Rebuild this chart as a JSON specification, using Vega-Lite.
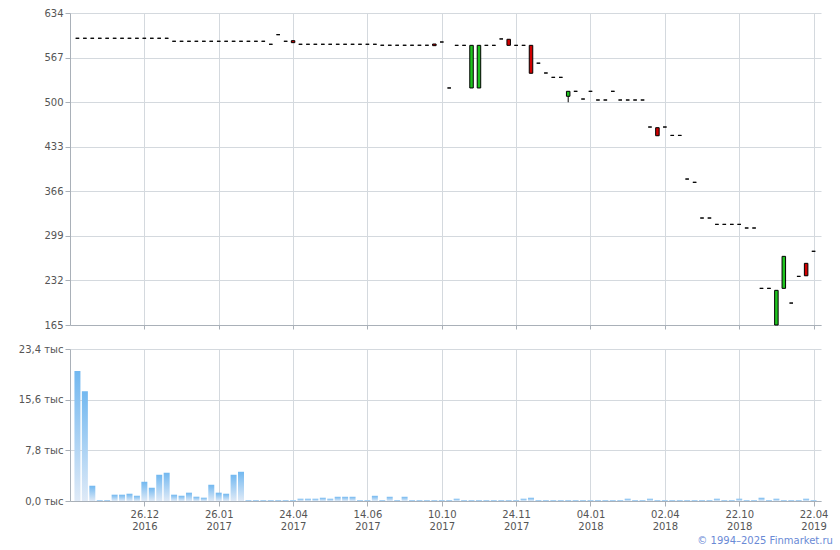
{
"$schema": "https://vega.github.io/schema/vega-lite/v6.json",
"padding": {"left": 17, "top": 8, "right": 0, "bottom": 2},
"config": {
  "font": "DejaVu Sans",
  "view": {"stroke": null},
  "axis": {"labelFont": "DejaVu Sans", "labelFontSize": 10, "labelColor": "#555555", "gridColor": "#d4d9de", "domainColor": "#a9b0b8", "tickColor": "#a9b0b8", "title": null, "labelFlush": false, "labelOverlap": false},
  "axisY": {"minExtent": 53, "maxExtent": 53}
},
"datasets": {"d": [
{"idx":0,"open":596,"high":596,"low":596,"close":596,"volume":20000},
{"idx":1,"open":596,"high":596,"low":596,"close":596,"volume":16900},
{"idx":2,"open":596,"high":596,"low":596,"close":596,"volume":2350},
{"idx":3,"open":596,"high":596,"low":596,"close":596,"volume":150},
{"idx":4,"open":596,"high":596,"low":596,"close":596,"volume":150},
{"idx":5,"open":596,"high":596,"low":596,"close":596,"volume":970},
{"idx":6,"open":596,"high":596,"low":596,"close":596,"volume":970},
{"idx":7,"open":596,"high":596,"low":596,"close":596,"volume":1120},
{"idx":8,"open":596,"high":596,"low":596,"close":596,"volume":810},
{"idx":9,"open":596,"high":596,"low":596,"close":596,"volume":2960},
{"idx":10,"open":596,"high":596,"low":596,"close":596,"volume":2040},
{"idx":11,"open":596,"high":596,"low":596,"close":596,"volume":4040},
{"idx":12,"open":596,"high":596,"low":596,"close":596,"volume":4350},
{"idx":13,"open":591.5,"high":591.5,"low":591.5,"close":591.5,"volume":970},
{"idx":14,"open":591.5,"high":591.5,"low":591.5,"close":591.5,"volume":810},
{"idx":15,"open":591.5,"high":591.5,"low":591.5,"close":591.5,"volume":1280},
{"idx":16,"open":591.5,"high":591.5,"low":591.5,"close":591.5,"volume":660},
{"idx":17,"open":591.5,"high":591.5,"low":591.5,"close":591.5,"volume":510},
{"idx":18,"open":591.5,"high":591.5,"low":591.5,"close":591.5,"volume":2500},
{"idx":19,"open":591.5,"high":591.5,"low":591.5,"close":591.5,"volume":1280},
{"idx":20,"open":591.5,"high":591.5,"low":591.5,"close":591.5,"volume":1120},
{"idx":21,"open":591.5,"high":591.5,"low":591.5,"close":591.5,"volume":4040},
{"idx":22,"open":591.5,"high":591.5,"low":591.5,"close":591.5,"volume":4500},
{"idx":23,"open":591.5,"high":591.5,"low":591.5,"close":591.5,"volume":150},
{"idx":24,"open":591.5,"high":591.5,"low":591.5,"close":591.5,"volume":150},
{"idx":25,"open":591.5,"high":591.5,"low":591.5,"close":591.5,"volume":150},
{"idx":26,"open":587,"high":587,"low":587,"close":587,"volume":150},
{"idx":27,"open":601.4,"high":601.4,"low":601.4,"close":601.4,"volume":150},
{"idx":28,"open":591.5,"high":591.5,"low":591.5,"close":591.5,"volume":150},
{"idx":29,"open":592.4,"high":592.4,"low":589.4,"close":589.4,"volume":150},
{"idx":30,"open":587,"high":587,"low":587,"close":587,"volume":350},
{"idx":31,"open":587,"high":587,"low":587,"close":587,"volume":350},
{"idx":32,"open":587,"high":587,"low":587,"close":587,"volume":350},
{"idx":33,"open":587,"high":587,"low":587,"close":587,"volume":500},
{"idx":34,"open":587,"high":587,"low":587,"close":587,"volume":350},
{"idx":35,"open":587,"high":587,"low":587,"close":587,"volume":650},
{"idx":36,"open":587,"high":587,"low":587,"close":587,"volume":650},
{"idx":37,"open":587,"high":587,"low":587,"close":587,"volume":650},
{"idx":38,"open":587,"high":587,"low":587,"close":587,"volume":150},
{"idx":39,"open":587,"high":587,"low":587,"close":587,"volume":150},
{"idx":40,"open":587,"high":587,"low":587,"close":587,"volume":800},
{"idx":41,"open":585.5,"high":585.5,"low":585.5,"close":585.5,"volume":150},
{"idx":42,"open":585.5,"high":585.5,"low":585.5,"close":585.5,"volume":650},
{"idx":43,"open":585.5,"high":585.5,"low":585.5,"close":585.5,"volume":150},
{"idx":44,"open":585.5,"high":585.5,"low":585.5,"close":585.5,"volume":650},
{"idx":45,"open":585.5,"high":585.5,"low":585.5,"close":585.5,"volume":150},
{"idx":46,"open":585.5,"high":585.5,"low":585.5,"close":585.5,"volume":150},
{"idx":47,"open":585.5,"high":585.5,"low":585.5,"close":585.5,"volume":150},
{"idx":48,"open":587.4,"high":587.4,"low":584.9,"close":584.9,"volume":150},
{"idx":49,"open":590.4,"high":590.4,"low":590.4,"close":590.4,"volume":150},
{"idx":50,"open":521.3,"high":521.3,"low":521.3,"close":521.3,"volume":150},
{"idx":51,"open":585.4,"high":585.4,"low":585.4,"close":585.4,"volume":350},
{"idx":52,"open":585.4,"high":585.4,"low":585.4,"close":585.4,"volume":150},
{"idx":53,"open":521.3,"high":585.4,"low":521.3,"close":585.4,"volume":150},
{"idx":54,"open":521.3,"high":585.4,"low":521.3,"close":585.4,"volume":150},
{"idx":55,"open":585.4,"high":585.4,"low":585.4,"close":585.4,"volume":150},
{"idx":56,"open":585.4,"high":585.4,"low":585.4,"close":585.4,"volume":150},
{"idx":57,"open":595,"high":595,"low":595,"close":595,"volume":150},
{"idx":58,"open":594.5,"high":594.5,"low":585.4,"close":585.4,"volume":150},
{"idx":59,"open":585.4,"high":585.4,"low":585.4,"close":585.4,"volume":150},
{"idx":60,"open":585.4,"high":585.4,"low":585.4,"close":585.4,"volume":350},
{"idx":61,"open":585.4,"high":585.4,"low":543.4,"close":543.4,"volume":500},
{"idx":62,"open":558.6,"high":558.6,"low":558.6,"close":558.6,"volume":150},
{"idx":63,"open":543.8,"high":543.8,"low":543.8,"close":543.8,"volume":150},
{"idx":64,"open":537.3,"high":537.3,"low":537.3,"close":537.3,"volume":150},
{"idx":65,"open":537.3,"high":537.3,"low":537.3,"close":537.3,"volume":150},
{"idx":66,"open":508.8,"high":516.3,"low":499.8,"close":516.3,"volume":150},
{"idx":67,"open":516.3,"high":516.3,"low":516.3,"close":516.3,"volume":150},
{"idx":68,"open":504.7,"high":504.7,"low":504.7,"close":504.7,"volume":150},
{"idx":69,"open":516.3,"high":516.3,"low":516.3,"close":516.3,"volume":150},
{"idx":70,"open":503.2,"high":503.2,"low":503.2,"close":503.2,"volume":150},
{"idx":71,"open":503.2,"high":503.2,"low":503.2,"close":503.2,"volume":150},
{"idx":72,"open":516.3,"high":516.3,"low":516.3,"close":516.3,"volume":150},
{"idx":73,"open":503.2,"high":503.2,"low":503.2,"close":503.2,"volume":150},
{"idx":74,"open":503.2,"high":503.2,"low":503.2,"close":503.2,"volume":350},
{"idx":75,"open":503.2,"high":503.2,"low":503.2,"close":503.2,"volume":150},
{"idx":76,"open":503.2,"high":503.2,"low":503.2,"close":503.2,"volume":150},
{"idx":77,"open":462.6,"high":462.6,"low":462.6,"close":462.6,"volume":350},
{"idx":78,"open":461.6,"high":461.6,"low":449.5,"close":449.5,"volume":150},
{"idx":79,"open":462.6,"high":462.6,"low":462.6,"close":462.6,"volume":150},
{"idx":80,"open":450,"high":450,"low":450,"close":450,"volume":150},
{"idx":81,"open":450,"high":450,"low":450,"close":450,"volume":150},
{"idx":82,"open":384.4,"high":384.4,"low":384.4,"close":384.4,"volume":150},
{"idx":83,"open":379.5,"high":379.5,"low":379.5,"close":379.5,"volume":150},
{"idx":84,"open":325.8,"high":325.8,"low":325.8,"close":325.8,"volume":150},
{"idx":85,"open":325.8,"high":325.8,"low":325.8,"close":325.8,"volume":150},
{"idx":86,"open":316.3,"high":316.3,"low":316.3,"close":316.3,"volume":350},
{"idx":87,"open":316.3,"high":316.3,"low":316.3,"close":316.3,"volume":150},
{"idx":88,"open":316.3,"high":316.3,"low":316.3,"close":316.3,"volume":150},
{"idx":89,"open":316.3,"high":316.3,"low":316.3,"close":316.3,"volume":350},
{"idx":90,"open":310.8,"high":310.8,"low":310.8,"close":310.8,"volume":150},
{"idx":91,"open":310.8,"high":310.8,"low":310.8,"close":310.8,"volume":150},
{"idx":92,"open":220.1,"high":220.1,"low":220.1,"close":220.1,"volume":500},
{"idx":93,"open":220.1,"high":220.1,"low":220.1,"close":220.1,"volume":150},
{"idx":94,"open":165,"high":217.1,"low":165,"close":217.1,"volume":350},
{"idx":95,"open":220.1,"high":268.2,"low":220.1,"close":268.2,"volume":150},
{"idx":96,"open":198,"high":198,"low":198,"close":198,"volume":150},
{"idx":97,"open":238.1,"high":238.1,"low":238.1,"close":238.1,"volume":150},
{"idx":98,"open":257.7,"high":257.7,"low":239,"close":239,"volume":350},
{"idx":99,"open":275.8,"high":275.8,"low":275.8,"close":275.8,"volume":150}
]},
"data": {"name": "d"},
"spacing": 14,
"title": {"text": "© 1994–2025 Finmarket.ru", "orient": "bottom", "anchor": "end", "color": "#6a8ad6", "fontSize": 10, "fontWeight": "normal", "font": "DejaVu Sans", "offset": 5, "dx": 5},
"vconcat": [
  {
    "width": 751, "height": 312,
    "encoding": {
      "x": {"field": "idx", "type": "quantitative", "scale": {"domain": [-1, 100], "nice": false, "zero": false, "padding": 0},
            "axis": {"values": [9,19,29,39,49,59,69,79,89,99], "labels": false, "tickSize": 4, "grid": true}}
    },
    "layer": [
      {"mark": {"type": "rule", "color": "black", "strokeWidth": 1},
       "encoding": {
         "y": {"field": "low", "type": "quantitative", "scale": {"domain": [165, 634], "nice": false, "zero": false, "padding": 0},
               "axis": {"values": [165,232,299,366,433,500,567,634], "tickSize": 5, "grid": true}},
         "y2": {"field": "high"}
       }},
      {"mark": {"type": "bar", "size": 3.5, "stroke": "black", "strokeWidth": 1},
       "encoding": {
         "y": {"field": "open", "type": "quantitative"},
         "y2": {"field": "close"},
         "fill": {"condition": [{"test": "datum.close > datum.open", "value": "#1fc41f"}, {"test": "datum.close < datum.open", "value": "#d10000"}], "value": "black"}
       }}
    ]
  },
  {
    "width": 751, "height": 152,
    "mark": {"type": "bar", "size": 6, "fill": {"gradient": "linear", "x1": 0, "y1": 0, "x2": 0, "y2": 1, "stops": [{"offset": 0, "color": "#72b8f0"}, {"offset": 1, "color": "#dfeaf7"}]}},
    "encoding": {
      "x": {"field": "idx", "type": "quantitative", "scale": {"domain": [-1, 100], "nice": false, "zero": false, "padding": 0},
            "axis": {"values": [9,19,29,39,49,59,69,79,89,99], "tickSize": 5, "grid": true, "labelLineHeight": 12, "labelPadding": 3,
                     "labelExpr": "split(['26.12|2016','26.01|2017','24.04|2017','14.06|2017','10.10|2017','24.11|2017','04.01|2018','02.04|2018','22.10|2018','22.04|2019'][round((datum.value-9)/10)], '|')"}},
      "y": {"field": "volume", "type": "quantitative", "scale": {"domain": [0, 23400], "nice": false, "zero": true, "padding": 0},
            "axis": {"values": [0, 7800, 15600, 23400], "tickSize": 5, "grid": true,
                     "labelExpr": "replace(format(datum.value/1000, '.1f'), '.', ',') + ' тыс'"}}
    }
  }
]
}
